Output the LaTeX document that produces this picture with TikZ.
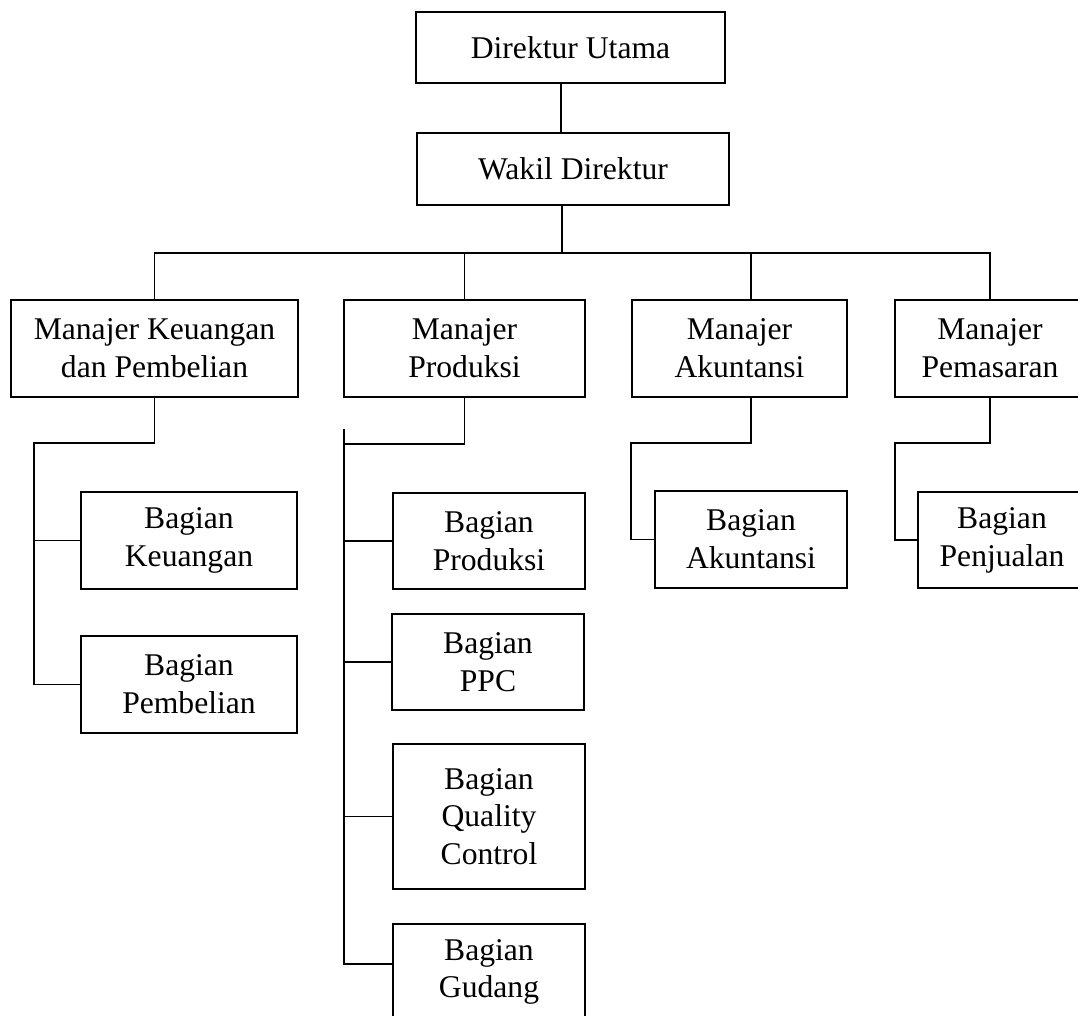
\documentclass[tikz,border=0pt]{standalone}
\usepackage{fontspec}
\setmainfont{Liberation Serif}

\begin{document}
\begin{tikzpicture}[%
x={(0.02cm,0cm)},
y={(0cm,-0.02cm)},
kotak/.style={draw=black, line width=1pt, align=center, inner sep=0pt, font=\fontsize{18}{21.5}\selectfont},
garis/.style={draw=black, line width=0.8pt},
]

\useasboundingbox (0,0) rectangle (1078,1015);
\clip (0,0) rectangle (1078,1015);

%Pimpinan
\node[kotak, minimum width=6.18cm, minimum height=1.42cm](dirut) at (570.5,47.5){Direktur Utama};
\node[kotak, minimum width=6.24cm, minimum height=1.44cm](wakil) at (573,169){Wakil Direktur};

%Manajer
\node[kotak, minimum width=5.74cm, minimum height=1.94cm](mkeu) at (154.5,348.5){Manajer Keuangan\\dan Pembelian};
\node[kotak, minimum width=4.82cm, minimum height=1.94cm](mprod) at (464.5,348.5){Manajer\\Produksi};
\node[kotak, minimum width=4.30cm, minimum height=1.94cm](makun) at (739.5,348.5){Manajer\\Akuntansi};
\node[kotak, minimum width=3.80cm, minimum height=1.94cm](mpem) at (990,348.5){Manajer\\Pemasaran};

%Bagian
\node[kotak, minimum width=4.32cm, minimum height=1.94cm](bkeu) at (189,540.5){Bagian\\Keuangan};
\node[kotak, minimum width=4.32cm, minimum height=1.94cm](bpem) at (189,684.5){Bagian\\Pembelian};
\node[kotak, minimum width=3.84cm, minimum height=1.92cm](bprod) at (489,541){Bagian\\Produksi};
\node[kotak, minimum width=3.84cm, minimum height=1.92cm](bppc) at (488,662){Bagian\\PPC};
\node[kotak, minimum width=3.84cm, minimum height=2.90cm](bqc) at (489,816.5){Bagian\\Quality\\Control};
\node[kotak, minimum width=3.84cm, minimum height=1.92cm](bgud) at (489,972){Bagian\\Gudang};
\node[kotak, minimum width=3.84cm, minimum height=1.94cm](bakun) at (751,539.5){Bagian\\Akuntansi};
\node[kotak, minimum width=3.36cm, minimum height=1.92cm](bpenj) at (1002,540){Bagian\\Penjualan};

%Garis atas
\coordinate (bus) at (0,253);
\draw[garis] ([xshift=-0.19cm]dirut.south) -- ([xshift=-0.19cm]dirut.south |- wakil.north);
\draw[garis] ([xshift=-0.22cm]wakil.south) -- ([xshift=-0.22cm]wakil.south |- bus);
\draw[garis] (mkeu.north) -- (mkeu.north |- bus) -| (mpem.north);
\draw[garis] (mprod.north) -- (mprod.north |- bus);
\draw[garis] ([xshift=0.23cm]makun.north) -- ([xshift=0.23cm]makun.north |- bus);

%Keuangan
\coordinate (keuBelok) at (34,443);
\draw[garis] (mkeu.south) |- (keuBelok) |- (bpem.west);
\draw[garis] (keuBelok |- bkeu.west) -- (bkeu.west);

%Produksi
\coordinate (prodAtas) at (344,429);
\coordinate (prodBelok) at (344,444);
\coordinate (gudCabang) at ([yshift=0.16cm]bgud.west);
\draw[garis] (mprod.south) |- (prodBelok);
\draw[garis] (prodAtas) -- (prodAtas |- gudCabang) -- (gudCabang);
\foreach \b in {bprod,bppc,bqc}
  \draw[garis] (prodAtas |- \b.west) -- (\b.west);

%Akuntansi
\coordinate (akunBelok) at (631,443);
\draw[garis] ([xshift=0.23cm]makun.south) |- (akunBelok) |- (bakun.west);

%Pemasaran
\coordinate (pemBelok) at (895,443);
\draw[garis] (mpem.south) |- (pemBelok) |- (bpenj.west);

\end{tikzpicture}
\end{document}
